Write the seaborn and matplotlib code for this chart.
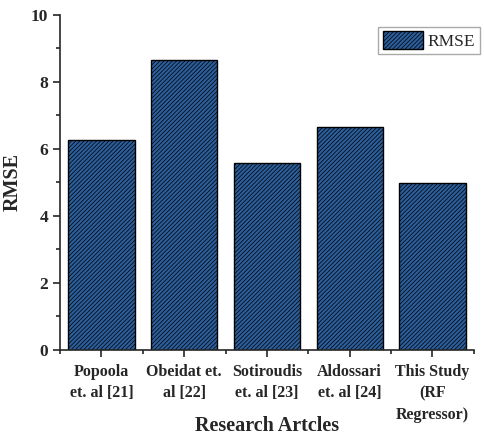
import numpy as np
import pandas as pd
import seaborn as sns
import matplotlib.pyplot as plt
from matplotlib.patches import Patch
from matplotlib.ticker import MultipleLocator

# Data
articles = ["Popoola\net. al [21]", "Obeidat et.\nal [22]", "Sotiroudis\net. al [23]",
            "Aldossari\net. al [24]", "This Study\n(RF\nRegressor)"]
rmse = [6.27, 8.66, 5.58, 6.66, 4.98]

df = pd.DataFrame({"article": articles, "RMSE": rmse})

sns.set_style("ticks")
plt.rcParams['font.family'] = ['Liberation Serif', 'DejaVu Serif']
plt.rcParams['font.weight'] = 'bold'
plt.rcParams['hatch.linewidth'] = 0.5

bar_color = "#2B5E9B"

fig = plt.figure(figsize=(4.84, 4.38), dpi=100)
ax = fig.add_axes([0.124, 0.201, 0.855, 0.765])

sns.barplot(data=df, x="article", y="RMSE", ax=ax, color=bar_color, width=0.8,
            edgecolor="black", linewidth=1.0, hatch="////////", saturation=1)

ax.set_ylim(0, 10)
ax.set_xlim(-0.5, 4.5)
ax.yaxis.set_major_locator(MultipleLocator(2))
ax.yaxis.set_minor_locator(MultipleLocator(1))
ax.xaxis.set_minor_locator(MultipleLocator(1, offset=0.5))
ax.tick_params(axis='both', which='major', direction='out', length=5, width=1.2)
ax.tick_params(axis='x', which='major', labelsize=11.5, pad=5)
ax.tick_params(axis='y', which='major', labelsize=12.5)
ax.tick_params(axis='both', which='minor', direction='out', length=3, width=1.2)
for lab in ax.get_xticklabels():
    lab.set_fontweight('bold')
    lab.set_linespacing(1.45)
for lab in ax.get_yticklabels():
    lab.set_fontweight('bold')

sns.despine(ax=ax)
for s in ['left', 'bottom']:
    ax.spines[s].set_linewidth(1.2)

ax.set_xlabel("Research Artcles", fontsize=14.5, fontweight='bold', va='center')
ax.xaxis.set_label_coords(0.5, -0.227)
ax.set_ylabel("RMSE", fontsize=14.5, fontweight='bold', labelpad=6)

handle = Patch(facecolor=bar_color, edgecolor="black", hatch="////////", label="RMSE")
leg = ax.legend(handles=[handle], loc='upper right', bbox_to_anchor=(1.035, 0.99),
                fancybox=False, framealpha=1, edgecolor='#aaaaaa',
                prop={'weight': 'normal', 'size': 12.5},
                handlelength=2.3, handleheight=1.2, borderpad=0.25, handletextpad=0.3)

fig.savefig("out.png", dpi=100)
